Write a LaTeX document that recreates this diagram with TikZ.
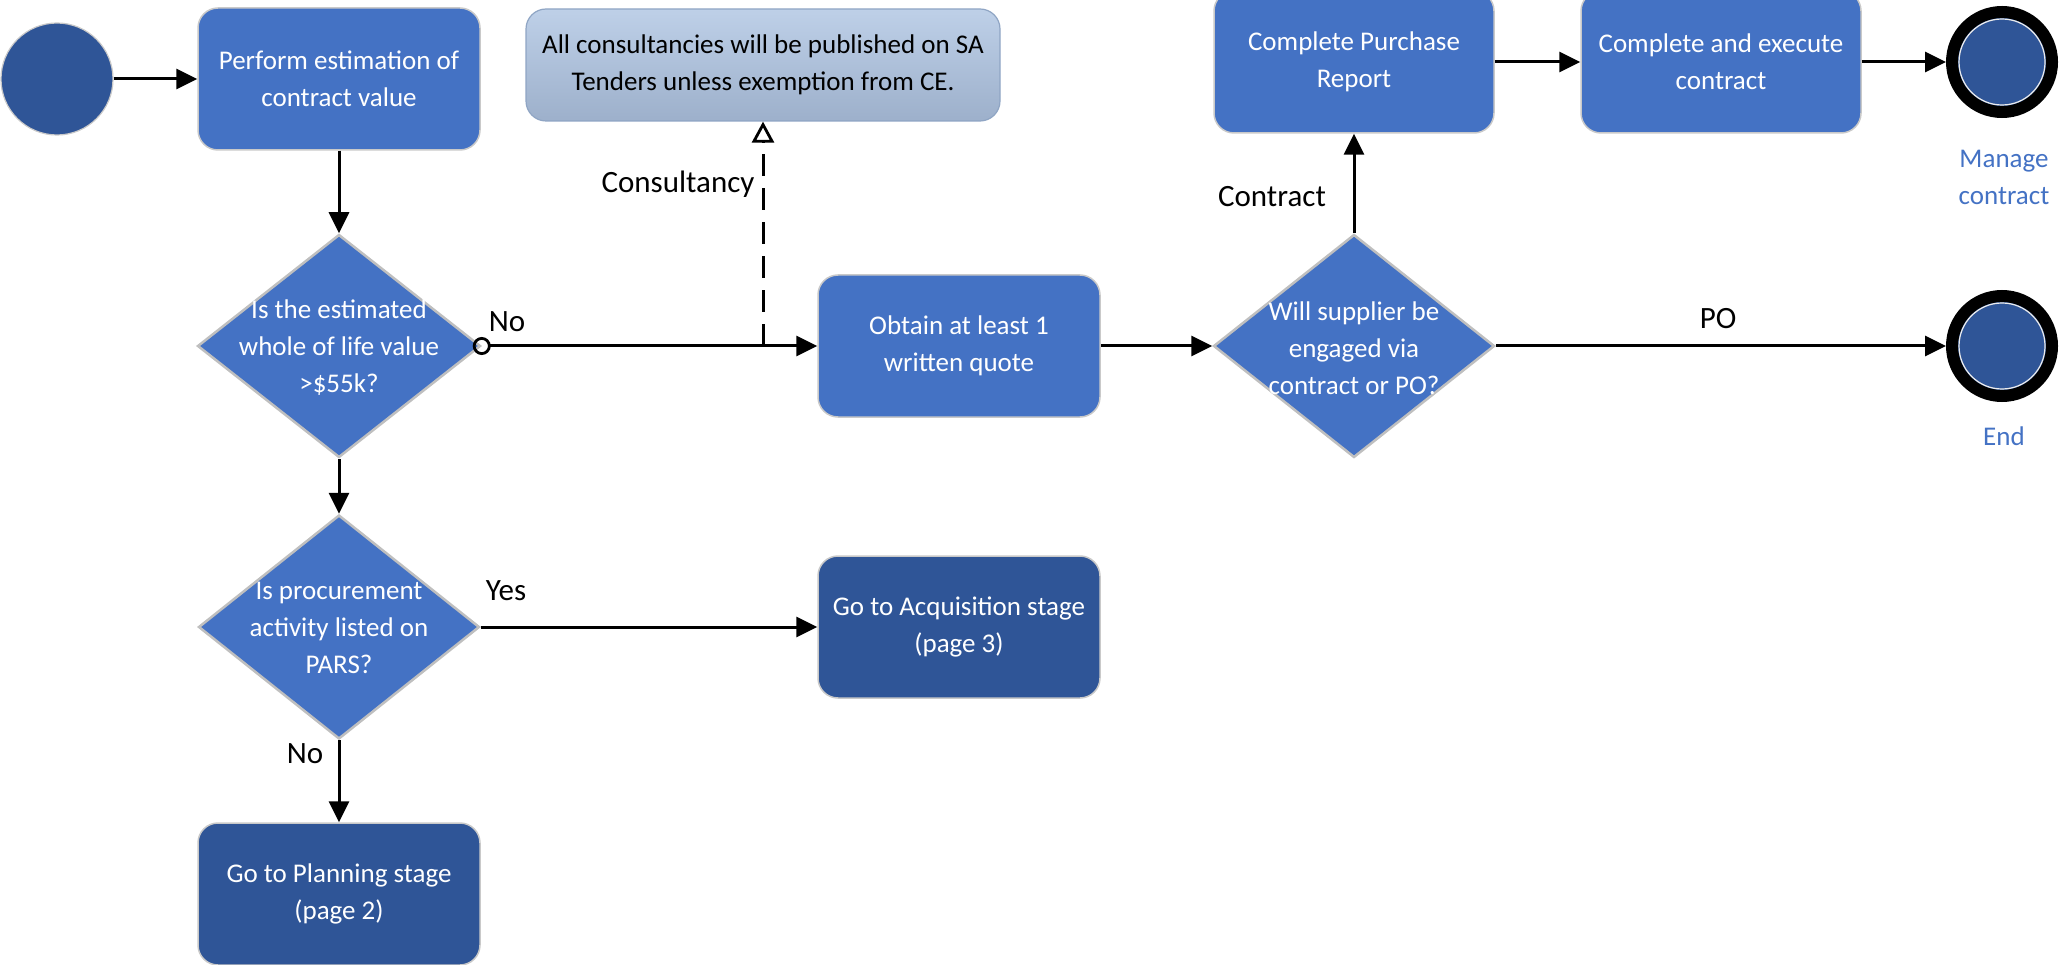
\documentclass[tikz,border=0pt]{standalone}
\usepackage{fontspec}
\setmainfont{Carlito}
\usetikzlibrary{arrows.meta,shapes.geometric}
\definecolor{mblue}{HTML}{4472C4}
\definecolor{dblue}{HTML}{2F5597}
\definecolor{boxedge}{HTML}{C9C9C9}
\definecolor{diaedge}{HTML}{BFBFBF}
\definecolor{notetop}{HTML}{BED0E8}
\definecolor{notebot}{HTML}{9DB0CB}
\definecolor{noteedge}{HTML}{8FA5C4}
\newcommand\bxfont{\fontsize{27}{37}\selectfont}
\newcommand\lbfont{\fontsize{31}{36}\selectfont}
\tikzset{
 conn/.style={line width=3pt, -{Triangle[length=21pt,width=20pt]}},
 box/.style={rectangle, rounded corners=20pt, fill=mblue, draw=boxedge, line width=1.5pt, minimum width=282pt, minimum height=142pt, text=white, align=center, font=\bxfont},
 dbox/.style={box, fill=dblue},
 dia/.style={diamond, fill=mblue, draw=diaedge, line width=2.5pt, minimum width=283pt, minimum height=223pt, inner sep=0pt},
 diatext/.style={text=white, align=center, font=\bxfont, inner sep=0pt},
 lbl/.style={font=\lbfont, text=black, inner sep=0pt},
 blbl/.style={font=\bxfont, text=mblue, align=center, inner sep=0pt},
 endc/.style={circle, draw=black, line width=12pt, fill=dblue, minimum size=100pt, inner sep=0pt},
}
\begin{document}
\begin{tikzpicture}[x=1pt,y=-1pt]
\useasboundingbox (0,0) rectangle (2061,965);
% start
\node[circle, fill=dblue, draw=boxedge, line width=1.2pt, minimum size=112pt, inner sep=0pt] (start) at (57,79) {};
% boxes
\node[box] (perform) at (339,79) {Perform estimation of\\contract value};
\node[rectangle, rounded corners=20pt, top color=notetop, bottom color=notebot, draw=noteedge, line width=1.2pt, minimum width=474pt, minimum height=112pt, align=center, font=\bxfont, text=black] (note) at (763,65) {All consultancies will be published on SA\\Tenders unless exemption from CE.};
\node[box] (obtain) at (959,346) {Obtain at least 1\\written quote};
\node[dbox] (acq) at (959,627) {Go to Acquisition stage\\(page 3)};
\node[dbox] (plan) at (339,894) {Go to Planning stage\\(page 2)};
\node[box, minimum width=280pt] (cp) at (1354,62) {Complete Purchase\\Report};
\node[box, minimum width=280pt] (ce) at (1721,62) {Complete and execute\\contract};
% diamonds
\node[dia] (d1) at (339,346) {};
\node[diatext] (d1t) at (339,348) {Is the estimated\\whole of life value\\>\$55k?};
\node[dia, minimum width=281pt] (d2) at (1354,346) {};
\node[diatext] (d2t) at (1354,348) {Will supplier be\\engaged via\\contract or PO?};
\node[dia, minimum width=281pt, minimum height=224pt] (d3) at (339,627) {};
\node[diatext] (d3t) at (339,628) {Is procurement\\activity listed on\\PARS?};
% end events
\node[endc] (mc) at (2002,62) {};
\draw[draw=white!85!gray, line width=1.2pt] (mc.center) circle[radius=43pt];
\node[endc] (endn) at (2002,346) {};
\draw[draw=white!85!gray, line width=1.2pt] (endn.center) circle[radius=43pt];
\node[blbl] (mct) at (2004,177) {Manage\\contract};
\node[blbl] (endt) at (2004,436) {End};
% connectors
\draw[conn] (start.east) -- (perform.west);
\draw[conn] (perform.south) -- (d1.north);
\coordinate (j) at (note.south |- d1.east);
\draw[line width=3pt, shorten <=-9pt, {Circle[open,length=18pt,width=18pt,line width=2.8pt]}-{Triangle[length=21pt,width=20pt]}] (d1.east) -- (obtain.west);
\draw[line width=3pt, dash pattern=on 22pt off 12pt, -{Triangle[open,length=21pt,width=22pt,line width=2.8pt]}] (j) -- (note.south);
\draw[conn] (obtain.east) -- (d2.west);
\draw[conn] (d2.north) -- (cp.south);
\draw[conn] (cp.east) -- (ce.west);
\draw[conn] (ce.east) -- (mc.west);
\draw[conn] (d2.east) -- (endn.west);
\draw[conn] (d1.south) -- (d3.north);
\draw[conn] (d3.east) -- (acq.west);
\draw[conn] (d3.south) -- (plan.north);
% labels
\node[lbl] (lno1) at (507,322) {No};
\node[lbl] (lcons) at (678,184) {Consultancy};
\node[lbl] (lcontract) at (1272,197) {Contract};
\node[lbl] (lpo) at (1718,319) {PO};
\node[lbl] (lyes) at (506,591) {Yes};
\node[lbl] (lno2) at (305,754) {No};
\end{tikzpicture}
\end{document}
